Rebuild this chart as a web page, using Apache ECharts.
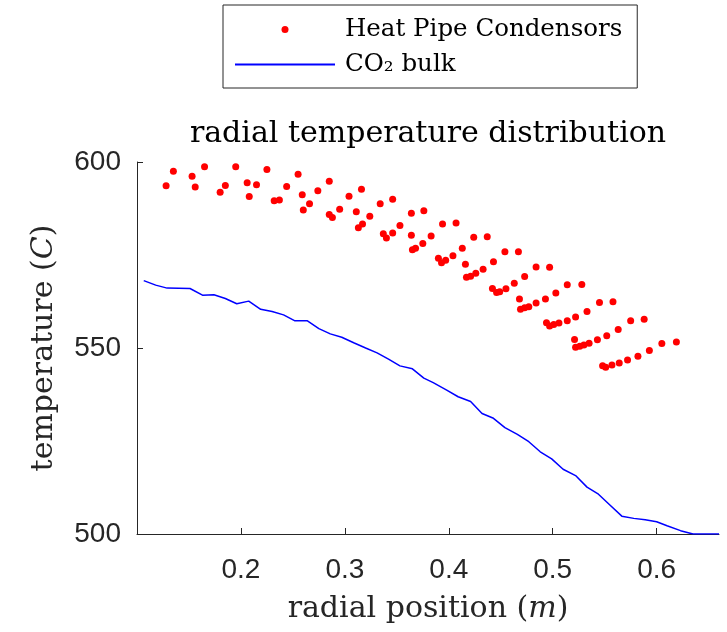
<!DOCTYPE html>
<html>
<head>
<meta charset="utf-8">
<script src="https://cdn.jsdelivr.net/npm/echarts@6/dist/echarts.min.js"></script>
<style>
  html, body { margin: 0; padding: 0; background: #fff; }
  #chart { width: 727px; height: 632px; }
</style>
</head>
<body>
<div id="chart"></div>
<script>
// heat pipe condensor temperatures (x = radial position m, y = temperature C)
var pipeX = [0.128, 0.135, 0.153, 0.156, 0.165, 0.180, 0.185, 0.195, 0.206, 0.208,
  0.215, 0.225, 0.232, 0.237, 0.244, 0.255, 0.259, 0.260, 0.266, 0.274,
  0.285, 0.285, 0.288, 0.295, 0.304, 0.311, 0.316, 0.313, 0.317, 0.324,
  0.334, 0.346, 0.337, 0.340, 0.346, 0.353, 0.364, 0.376, 0.364, 0.365,
  0.368, 0.375, 0.383, 0.394, 0.407, 0.390, 0.393, 0.397, 0.404, 0.413,
  0.424, 0.437, 0.416, 0.417, 0.421, 0.426, 0.433, 0.443, 0.442, 0.446,
  0.454, 0.467, 0.473, 0.484, 0.497, 0.449, 0.455, 0.463, 0.468, 0.469,
  0.473, 0.477, 0.484, 0.493, 0.503, 0.514, 0.528, 0.494, 0.497, 0.501,
  0.506, 0.514, 0.522, 0.533, 0.545, 0.558, 0.521, 0.522, 0.526, 0.530,
  0.535, 0.543, 0.552, 0.563, 0.575, 0.588, 0.548, 0.551, 0.557, 0.564,
  0.572, 0.582, 0.593, 0.605, 0.619];
var pipeY = [593.6, 597.5, 596.2, 593.3, 598.7, 591.9, 593.7, 598.7, 594.4, 590.7,
  593.9, 598.0, 589.6, 589.8, 593.4, 596.7, 591.2, 587.1, 588.8, 592.3,
  594.8, 585.9, 585.1, 587.3, 590.8, 586.6, 592.7, 582.3, 583.3, 585.4,
  588.8, 590.0, 580.7, 579.6, 580.9, 582.9, 586.2, 586.9, 580.3, 576.4,
  576.8, 578.1, 580.1, 583.3, 583.6, 574.1, 572.9, 573.6, 574.8, 576.8,
  579.8, 579.9, 572.5, 569.0, 569.3, 570.1, 571.2, 573.2, 566.0, 564.9,
  575.9, 575.9, 569.2, 571.8, 571.7, 565.1, 565.9, 567.4, 563.2, 560.4,
  560.8, 561.1, 562.1, 563.2, 564.8, 567.0, 567.1, 556.8, 555.9, 556.3,
  556.7, 557.3, 558.3, 559.8, 562.2, 562.4, 552.3, 550.2, 550.5, 550.8,
  551.3, 552.2, 553.3, 555.0, 557.3, 557.7, 545.2, 544.8, 545.4, 546.0,
  546.8, 547.8, 549.3, 551.2, 551.6];

// CO2 bulk temperature
var bulkX = [0.1065, 0.118, 0.129, 0.151, 0.163, 0.174, 0.185, 0.196, 0.2075, 0.219,
  0.230, 0.241, 0.252, 0.264, 0.275, 0.286, 0.297, 0.3085, 0.320, 0.331,
  0.342, 0.353, 0.365, 0.376, 0.385, 0.398, 0.409, 0.421, 0.432, 0.443,
  0.454, 0.466, 0.477, 0.488, 0.499, 0.510, 0.522, 0.533, 0.544, 0.555,
  0.5665, 0.578, 0.589, 0.600, 0.610, 0.623, 0.635, 0.660];
var bulkY = [568.1, 566.9, 566.1, 566.0, 564.2, 564.3, 563.3, 561.9, 562.6, 560.4,
  559.8, 558.9, 557.3, 557.3, 555.2, 553.8, 552.9, 551.4, 550.0, 548.7,
  547.0, 545.2, 544.4, 541.9, 540.7, 538.7, 536.9, 535.6, 532.4, 531.1,
  528.6, 526.8, 524.8, 522.1, 520.2, 517.4, 515.7, 512.6, 510.7, 507.8,
  504.8, 504.2, 503.8, 503.3, 502.2, 500.9, 500.0, 500.0];

var xTicks = [0.2, 0.3, 0.4, 0.5, 0.6];
var yTicks = [500, 550, 600];

var pipePts = pipeX.map(function (x, i) { return [x, pipeY[i]]; });
var bulkPts = bulkX.map(function (x, i) { return [x, bulkY[i]]; });

var axisCol = '#262626';
var serif = 'DejaVu Serif';

var chart = echarts.init(document.getElementById('chart'));
chart.setOption({
  animation: false,
  backgroundColor: '#fff',
  title: {
    text: 'radial temperature distribution',
    left: 428, top: 119, textAlign: 'center', padding: 0,
    textStyle: { fontFamily: serif, fontSize: 30, fontWeight: 'normal', color: '#000' }
  },
  legend: {
    orient: 'vertical', left: 223, top: 5,
    padding: [12, 15, 11, 11], itemGap: 10,
    itemWidth: 100, itemHeight: 7,
    borderColor: axisCol, borderWidth: 1, backgroundColor: '#fff',
    textStyle: { fontFamily: serif, fontSize: 24.5, color: '#000', padding: [0, 0, 0, 5] },
    data: [
      { name: 'Heat Pipe Condensors' },
      { name: 'CO\u2082 bulk', itemStyle: { opacity: 0 } }
    ]
  },
  grid: { left: 137, right: 8, top: 162, bottom: 98, outerBoundsMode: 'none' },
  xAxis: {
    type: 'value', min: 0.1, max: 0.66, interval: 0.1,
    name: '{n|radial position (}{i|m}{n|)}', nameLocation: 'middle', nameGap: 60,
    nameMoveOverlap: false,
    nameTextStyle: { rich: {
      n: { fontFamily: serif, fontSize: 30, color: '#262626' },
      i: { fontFamily: serif, fontSize: 30, fontStyle: 'italic', color: '#262626' } } },
    axisLine: { lineStyle: { color: axisCol, width: 1 } },
    axisTick: { inside: true, length: 6, lineStyle: { color: axisCol } },
    splitLine: { show: false },
    axisLabel: {
      fontFamily: 'Liberation Sans', fontSize: 28, color: axisCol, margin: 22,
      showMinLabel: false, showMaxLabel: false,
      formatter: function (v) {
        var hit = xTicks.filter(function (t) { return Math.abs(t - v) < 1e-6; });
        return hit.length ? hit[0].toFixed(1) : '';
      }
    }
  },
  yAxis: {
    type: 'value', min: 500, max: 600, interval: 50,
    name: '{n|temperature (}{i|C}{n|)}', nameLocation: 'middle', nameGap: 78, nameRotate: 90,
    nameMoveOverlap: false,
    nameTextStyle: { rich: {
      n: { fontFamily: serif, fontSize: 30, color: '#262626' },
      i: { fontFamily: serif, fontSize: 30, fontStyle: 'italic', color: '#262626' } } },
    axisLine: { show: true, lineStyle: { color: axisCol, width: 1 } },
    axisTick: { show: true, inside: true, length: 6, lineStyle: { color: axisCol } },
    splitLine: { show: false },
    axisLabel: {
      fontFamily: 'Liberation Sans', fontSize: 28, color: axisCol, margin: 16,
      formatter: function (v) { return yTicks.indexOf(v) >= 0 ? String(v) : ''; }
    }
  },
  series: [
    {
      name: 'Heat Pipe Condensors', type: 'scatter', data: pipePts,
      symbol: 'circle', symbolSize: 7, itemStyle: { color: '#ff0000', opacity: 1 }
    },
    {
      name: 'CO\u2082 bulk', type: 'line', data: bulkPts, showSymbol: false,
      symbol: 'none', lineStyle: { color: '#0000ff', width: 1.5 }, itemStyle: { color: '#0000ff' }
    }
  ]
});
</script>
</body>
</html>
